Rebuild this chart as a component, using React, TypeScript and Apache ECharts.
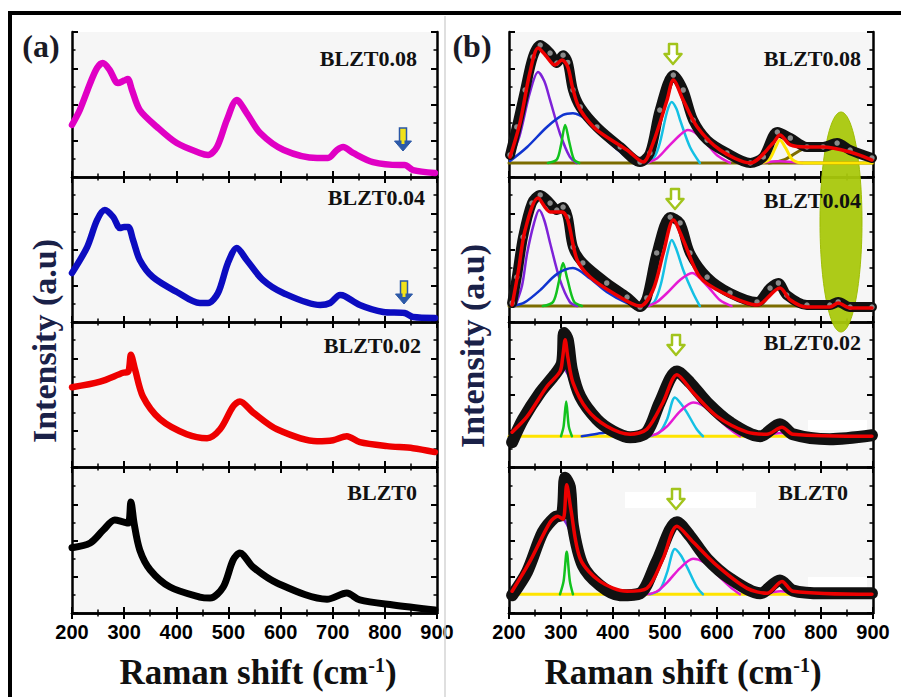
import React, { useEffect, useRef } from 'react';
import * as echarts from 'echarts';

type P = [number, number][];

// ---------- labels & axis ----------
const sampleNames = ['BLZT0.08', 'BLZT0.04', 'BLZT0.02', 'BLZT0'];
const xMin = 200;
const xMax = 900;
const xStep = 100;
const yMin = 0;
const yMax = 100;
const yStep = 25;

// ---------- panel (a): raw Raman spectra ----------
const rawB08: P = [[200,35.9],[215,46.2],[235,64.8],[248,75.2],[259,78.6],[272,74],[288,64.8],[300,66.5],[307,67.6],[315,60],[330,46.2],[363,34.5],[401,23.4],[445,16.6],[461,15.2],[478,20.7],[497,39.3],[516,53.1],[535,44.1],[561,30.3],[606,18.6],[670,13.1],[691,13.1],[708,18.6],[720,20.7],[739,16.6],[777,10.3],[829,8.3],[838,8.3],[854,4.8],[896,2.8]];
const rawB04: P = [[200,33.8],[229,51.7],[248,70.3],[263,77.2],[279,72.4],[292,64.8],[300,65.5],[308,65.5],[317,56.6],[330,42.8],[355,31],[401,20.7],[445,13.1],[461,13.1],[480,20],[499,40.7],[516,51],[535,42.8],[566,29],[605,20],[676,11.7],[695,13.1],[714,18.6],[723,17.9],[752,11.7],[797,6.9],[838,6.2],[854,3.4],[896,2.8]];
const rawB02: P = [[200,55],[254,58.9],[298,65],[308,65.8],[313,77.4],[321,67.1],[336,48.6],[369,32.9],[420,22.6],[459,19.9],[484,26],[509,41.8],[522,45.2],[547,37.7],[593,26],[670,17.8],[701,18.5],[727,21.2],[752,17.1],[804,14.4],[854,13],[896,10.3]];
const rawB00: P = [[200,45],[235,48.3],[260,57.2],[282,64.1],[298,62.8],[308,62],[313,76.6],[319,62],[330,43.4],[350,29.7],[388,17.9],[445,11],[465,10.3],[490,17.9],[509,36.6],[522,41.4],[547,31.7],[593,20.7],[689,9.5],[727,13.8],[752,9],[816,5.5],[896,2]];

// ---------- panel (b): measured data ----------
const obsB08: P = [[202,15.2],[215,34.5],[231,60],[246,82.8],[260,91],[279,85.5],[292,78.6],[304,84],[313,79],[323,60],[337,48.3],[369,34.5],[414,20.7],[452,10.3],[471,16.6],[490,46.2],[516,70.3],[535,60],[554,39.3],[581,25.5],[619,16.6],[664,9.7],[689,13.8],[716,31],[741,26.9],[773,20.7],[804,20.7],[831,23.4],[856,18.6],[898,13.1]];
const obsB04: P = [[206,13.1],[215,31],[227,58.6],[244,82],[260,87.6],[279,82],[292,77.2],[304,79.3],[313,72.4],[323,51.7],[342,40.7],[388,26.9],[427,17.2],[452,10.3],[465,16.6],[484,47.6],[510,72.4],[529,68.3],[548,47.6],[581,31],[625,20],[677,13.8],[702,23.4],[718,26.9],[734,18.6],[773,11.7],[817,11.7],[833,13.8],[856,10.3],[898,10.3]];
const obsB02: P = [[206,17.1],[227,32.9],[260,51.4],[288,63.7],[302,71.9],[306,92.5],[313,87.7],[321,67.1],[337,48.6],[369,32.9],[400,24.7],[433,20.5],[465,24],[490,44.5],[523,65.8],[548,58.2],[581,44.5],[625,30.8],[683,21.2],[721,29.5],[746,22.6],[817,19.2],[898,21.9]];
const obsB00: P = [[206,12.2],[235,28.6],[265,55.8],[288,66],[302,68],[308,93.2],[317,87.1],[323,59.9],[342,32.7],[375,19],[413,12.2],[452,13.6],[484,35.4],[523,62.6],[548,53.1],[581,37.4],[625,23.8],[683,13.6],[721,22.4],[746,15.6],[804,13.6],[898,13.6]];

// ---------- panel (b): cumulative fit ----------
const fitB08: P = [[202,13.8],[221,37.2],[240,71.7],[256,89],[270,84],[288,77.2],[302,80.7],[313,75.9],[322,62],[332,50],[345,42],[369,32.4],[427,18.6],[458,10.3],[477,23.4],[504,53.1],[516,66.9],[535,53.1],[562,34.5],[606,18.6],[664,9.7],[708,23.4],[721,29],[741,22.1],[773,20.7],[804,20.7],[856,17.2],[898,11.7]];
const fitB04: P = [[206,11.7],[218,35],[231,63.4],[256,85.5],[279,75.9],[302,75.9],[313,70.3],[331,42.8],[356,31],[400,20],[452,11],[477,22.1],[497,48],[516,70.3],[535,56.6],[567,31],[612,20],[677,11.7],[721,23.4],[741,15.2],[773,10.3],[817,10.3],[833,13.1],[856,9.7],[898,9.7]];
const fitB02: P = [[206,24],[235,34.9],[273,55.5],[298,65.8],[303,75],[308,87.7],[313,76],[323,58.2],[350,39.7],[388,28.1],[433,22.6],[465,26],[496,44.5],[523,63.7],[554,51.4],[600,34.9],[658,24],[696,22.6],[725,27.4],[746,22.6],[898,21.2]];
const fitB00: P = [[206,15],[240,35.4],[279,62.6],[294,66.7],[304,64.6],[311,88.4],[319,71.4],[337,37.4],[375,21.8],[427,15],[465,17],[496,37.4],[523,59.9],[554,49],[600,32.7],[658,17],[696,13.6],[725,21.8],[746,15],[898,12.9]];

// ---------- panel (b): deconvoluted components ----------
const purpleB08: P = [[202,12],[220,28],[240,58],[256,72.4],[268,66],[279,53],[298,30],[317,13.8],[330,9.7]];
const blueB08: P = [[202,11],[235,20.7],[273,34.5],[304,42.8],[323,44],[350,39.3],[388,25.5],[427,13.8],[452,9.7]];
const greenB08: P = [[275,9.7],[292,12],[300,22],[308,35.9],[316,24],[325,12],[335,9.7]];
const cyanB08: P = [[467,9.7],[480,14],[490,23.4],[504,45],[513,51.7],[522,47],[529,39.3],[548,20.7],[567,9.7]];
const magentaB08: P = [[465,9.7],[485,13],[504,20],[529,29],[544,32.4],[560,30],[580,23],[600,15],[625,9.7]];
const magenta2B08: P = [[683,9.7],[720,10.8],[765,9.7]];
const yellowB08: P = [[683,9.7],[700,12],[712,20],[721,25.5],[732,20],[745,12],[765,9.7],[800,9.7],[898,9.7]];
const oliveBroadB08: P = [[700,9.7],[730,12],[765,19.3],[800,22.5],[830,22.8],[856,20.7],[880,16],[898,13]];
const baseB08: P = [[200,9.7],[900,9.7]];

const purpleB04: P = [[212,11],[225,25],[235,47.6],[248,68],[258,77.2],[268,70],[279,54.5],[298,29],[317,13.8],[331,11]];
const greenB04: P = [[265,11],[285,14],[296,28],[304,40.7],[312,30],[325,14],[340,11]];
const blueB04: P = [[206,11],[230,13.5],[260,22],[292,33],[323,37.2],[356,30],[388,20.7],[427,13],[452,11]];
const cyanB04: P = [[467,11],[480,14],[492,26],[505,48],[513,56.6],[522,50],[535,35.9],[554,20],[567,11]];
const magentaB04: P = [[467,11],[485,14],[504,20],[529,29],[552,33.8],[581,25],[606,15],[628,11]];
const baseB04: P = [[200,11],[900,11]];

const purpleB02: P = [[206,22],[235,34.5],[260,46],[280,58],[298,66],[304,68.5],[313,64],[323,55.5],[350,41.8],[375,28],[400,22.6],[430,21.2]];
const greenB02: P = [[300,21.2],[305,28],[310,45.2],[315,28],[321,21.2]];
const blueB02: P = [[340,21.2],[370,23],[395,24],[420,22],[445,21.2]];
const cyanB02: P = [[471,21.2],[490,24],[504,32.9],[519,47.9],[530,44],[542,37.7],[561,26],[573,21.2]];
const magentaB02: P = [[467,21.2],[485,23],[504,28],[529,38.4],[554,44.5],[575,42],[593,36.3],[625,26],[644,21.2]];
const magenta2B02: P = [[690,21.2],[722,23.5],[760,21.2]];
const baseB02: P = [[200,21.2],[900,21.2]];

const purpleB00: P = [[206,14],[240,33],[265,52],[285,63],[298,66],[310,62],[323,51],[350,30.6],[380,17],[410,12.9]];
const greenB00: P = [[298,12.9],[305,22],[311,42.2],[317,22],[323,12.9]];
const cyanB00: P = [[471,12.9],[490,16],[504,28],[519,44.2],[530,40],[542,32],[561,18],[573,12.9]];
const magentaB00: P = [[467,12.9],[485,15],[504,21],[529,31],[554,37.4],[575,35],[593,29],[625,18],[644,12.9]];
const magenta2B00: P = [[690,12.9],[722,15],[760,12.9]];
const baseB00: P = [[200,12.9],[900,12.9]];

// ---------- layout ----------
const panelLeft = [72, 509];
const panelWidth = [365, 364];
const rowTop = [32, 177, 322, 468];
const rowH = 145;

const SERIF = "'Liberation Serif', 'Times New Roman', serif";
const SANS = "'Liberation Sans', Arial, sans-serif";

const C = {
  magenta: '#e000c4',
  navy: '#0c0cc0',
  red: '#ee0000',
  black: '#000000',
  purple: '#7e22d8',
  blue: '#1034d0',
  green: '#12c21e',
  cyan: '#14c0e4',
  pink: '#e51ad4',
  yellow: '#ffe400',
  olive: '#7c6c00',
};

function App() {
  const ref = useRef<HTMLDivElement>(null);
  useEffect(() => {
    if (!ref.current) return;
    const chart = echarts.init(ref.current, undefined, { renderer: 'svg' });

    const grids: any[] = [];
    const xAxes: any[] = [];
    const yAxes: any[] = [];
    const series: any[] = [];

    const axisLine = { show: true, lineStyle: { color: '#000', width: 2.5 } };
    for (let p = 0; p < 2; p++) {
      for (let r = 0; r < 4; r++) {
        const g = p * 4 + r;
        grids.push({
          left: panelLeft[p], top: rowTop[r], width: panelWidth[p], height: rowH,
          show: true, backgroundColor: '#f6f6f6', borderWidth: 0,
        });
        ['bottom', 'top'].forEach((pos) => {
          xAxes.push({
            gridIndex: g, type: 'value', position: pos, min: xMin, max: xMax, interval: xStep,
            axisLine,
            axisTick: { show: true, inside: true, length: 6, lineStyle: { color: '#000', width: 2 } },
            minorTick: { show: true, splitNumber: 2, length: 3.5, lineStyle: { color: '#000', width: 1.5 } },
            splitLine: { show: false },
            axisLabel: {
              show: pos === 'bottom' && r === 3, margin: 9, color: '#000',
              fontFamily: SANS, fontWeight: 'bold', fontSize: 20,
              showMinLabel: true, showMaxLabel: true,
            },
          });
        });
        ['left', 'right'].forEach((pos) => {
          yAxes.push({
            gridIndex: g, type: 'value', position: pos, min: yMin, max: yMax, interval: yStep,
            axisLine,
            axisTick: { show: true, inside: true, length: 6, lineStyle: { color: '#000', width: 2 } },
            minorTick: { show: true, splitNumber: 2, length: 3.5, lineStyle: { color: '#000', width: 1.5 } },
            splitLine: { show: false },
            axisLabel: { show: false },
          });
        });
      }
    }

    const line = (g: number, data: P, color: string, width: number, z: number, extra: any = {}) => ({
      type: 'line', xAxisIndex: 2 * g, yAxisIndex: 2 * g, data,
      showSymbol: false, smooth: 0.3, silent: true, z,
      lineStyle: { color, width, cap: 'round', join: 'round' },
      itemStyle: { color },
      ...extra,
    });
    const dots = {
      showSymbol: true, symbol: 'circle', symbolSize: 7,
      itemStyle: { color: '#8a8a8a', borderColor: '#111', borderWidth: 1.5 },
    };

    // panel (a)
    series.push(line(0, rawB08, C.magenta, 6.5, 3));
    series.push(line(1, rawB04, C.navy, 6.5, 3));
    series.push(line(2, rawB02, C.red, 6.5, 3));
    series.push(line(3, rawB00, C.black, 7, 3));

    // panel (b) components
    const comps: [number, P, string][] = [
      [4, baseB08, C.olive], [4, oliveBroadB08, C.olive], [4, purpleB08, C.purple], [4, blueB08, C.blue],
      [4, greenB08, C.green], [4, cyanB08, C.cyan], [4, magentaB08, C.pink], [4, magenta2B08, C.pink], [4, yellowB08, C.yellow],
      [5, baseB04, C.olive], [5, purpleB04, C.purple], [5, greenB04, C.green], [5, blueB04, C.blue],
      [5, cyanB04, C.cyan], [5, magentaB04, C.pink],
      [6, baseB02, C.yellow], [6, purpleB02, C.purple], [6, greenB02, C.green], [6, blueB02, C.blue],
      [6, cyanB02, C.cyan], [6, magentaB02, C.pink], [6, magenta2B02, C.pink],
      [7, baseB00, C.yellow], [7, purpleB00, C.purple], [7, greenB00, C.green],
      [7, cyanB00, C.cyan], [7, magentaB00, C.pink], [7, magenta2B00, C.pink],
    ];
    comps.forEach(([g, d, c]) => series.push(line(g, d, c, c === C.yellow || c === C.olive ? 3 : 2.5, 4)));

    // observed data + fit
    series.push(line(4, obsB08, '#111', 10, 5, dots));
    series.push(line(5, obsB04, '#111', 10, 5, dots));
    series.push(line(6, obsB02, '#111', 12, 5));
    series.push(line(7, obsB00, '#111', 12, 5));
    series.push(line(4, fitB08, C.red, 3.5, 6));
    series.push(line(5, fitB04, C.red, 3.5, 6));
    series.push(line(6, fitB02, C.red, 3.5, 6));
    series.push(line(7, fitB00, C.red, 3.5, 6));

    // ---------- decorations ----------
    const graphic: any[] = [];
    const sampleText = (text: string, right: number, y: number) => ({
      type: 'text', x: right, y, z: 10,
      style: { text, fill: '#111', font: `bold 22px ${SERIF}`, align: 'right', verticalAlign: 'middle' },
    });
    graphic.push(sampleText(sampleNames[0], 417, 58));
    graphic.push(sampleText(sampleNames[1], 425, 197));
    graphic.push(sampleText(sampleNames[2], 421, 345));
    graphic.push(sampleText(sampleNames[3], 417, 492));
    graphic.push(sampleText(sampleNames[0], 861, 58));
    graphic.push(sampleText(sampleNames[1], 861, 200));
    graphic.push(sampleText(sampleNames[2], 861, 342));
    graphic.push(sampleText(sampleNames[3], 848, 492));

    // panel letters
    graphic.push({ type: 'text', x: 41, y: 46, z: 10, style: { text: '(a)', fill: '#1b1b26', font: `bold 32px ${SERIF}`, align: 'center', verticalAlign: 'middle' } });
    graphic.push({ type: 'text', x: 472, y: 46, z: 10, style: { text: '(b)', fill: '#1b1b26', font: `bold 32px ${SERIF}`, align: 'center', verticalAlign: 'middle' } });

    // axis titles
    [258, 683].forEach((cx) => {
      graphic.push({
        type: 'text', x: cx, y: 672, z: 10,
        style: {
          text: '{a|Raman shift (cm}{s|-1}{a|)}', align: 'center', verticalAlign: 'middle',
          rich: {
            a: { fontFamily: SERIF, fontWeight: 'bold', fontSize: 35, fill: '#111', color: '#111' },
            s: { fontFamily: SERIF, fontWeight: 'bold', fontSize: 20, fill: '#111', color: '#111', verticalAlign: 'top' },
          },
        },
      });
    });
    [[44, 341], [472, 346]].forEach(([cx, cy]) => {
      graphic.push({
        type: 'text', x: cx, y: cy, rotation: Math.PI / 2, z: 10,
        style: { text: 'Intensity (a.u)', fill: '#1a2148', font: `bold 34px ${SERIF}`, align: 'center', verticalAlign: 'middle' },
      });
    });

    // outer frame & divider
    graphic.push({ type: 'line', z: 10, shape: { x1: 8, y1: 13, x2: 901, y2: 13 }, style: { stroke: '#000', lineWidth: 4 } });
    graphic.push({ type: 'line', z: 10, shape: { x1: 10, y1: 11, x2: 10, y2: 697 }, style: { stroke: '#000', lineWidth: 4 } });
    graphic.push({ type: 'line', z: 10, shape: { x1: 445, y1: 16, x2: 445, y2: 697 }, style: { stroke: '#d4d4d4', lineWidth: 1.5 } });

    // white patches in panel (b)
    [[625, 492, 131, 16], [808, 577, 59, 13], [808, 420, 59, 10]].forEach(([x, y, w, h]) => {
      graphic.push({ type: 'rect', z: 1, shape: { x, y, width: w, height: h }, style: { fill: '#ffffff' } });
    });

    // highlighted ellipse
    graphic.push({ type: 'ellipse', z: 1, shape: { cx: 841, cy: 222, rx: 21, ry: 110 }, style: { fill: '#a9c80c', stroke: '#9cba00', lineWidth: 1, opacity: 0.95 } });

    // blue/yellow arrows panel (a)
    [[403, 128], [404, 281]].forEach(([cx, top]) => {
      graphic.push({ type: 'rect', z: 10, shape: { x: cx - 3.5, y: top, width: 7, height: 15 }, style: { fill: '#f2e21a', stroke: '#2a57a6', lineWidth: 1.5 } });
      graphic.push({ type: 'polygon', z: 10, shape: { points: [[cx - 8.5, top + 13], [cx + 8.5, top + 13], [cx, top + 23]] }, style: { fill: '#2c5aa8', stroke: '#2a57a6', lineWidth: 1 } });
      graphic.push({ type: 'rect', z: 11, shape: { x: cx - 1.5, y: top + 2, width: 3, height: 14 }, style: { fill: '#f2e21a' } });
    });

    // hollow green arrows panel (b)
    [[673, 44], [675, 189], [676, 335], [676, 489]].forEach(([cx, top]) => {
      graphic.push({
        type: 'polygon', z: 10,
        shape: { points: [[cx - 4, top], [cx + 4, top], [cx + 4, top + 10], [cx + 8.5, top + 10], [cx, top + 20], [cx - 8.5, top + 10], [cx - 4, top + 10]] },
        style: { fill: '#ffffff', stroke: '#a2c41c', lineWidth: 2.5, lineJoin: 'round' },
      });
    });

    chart.setOption({
      animation: false,
      backgroundColor: '#ffffff',
      grid: grids,
      xAxis: xAxes,
      yAxis: yAxes,
      series,
      graphic: { elements: graphic },
    });
    return () => chart.dispose();
  }, []);
  return <div ref={ref} style={{ position: 'fixed', left: 0, top: 0, width: 901, height: 697, background: '#fff' }} />;
}

export default App;
